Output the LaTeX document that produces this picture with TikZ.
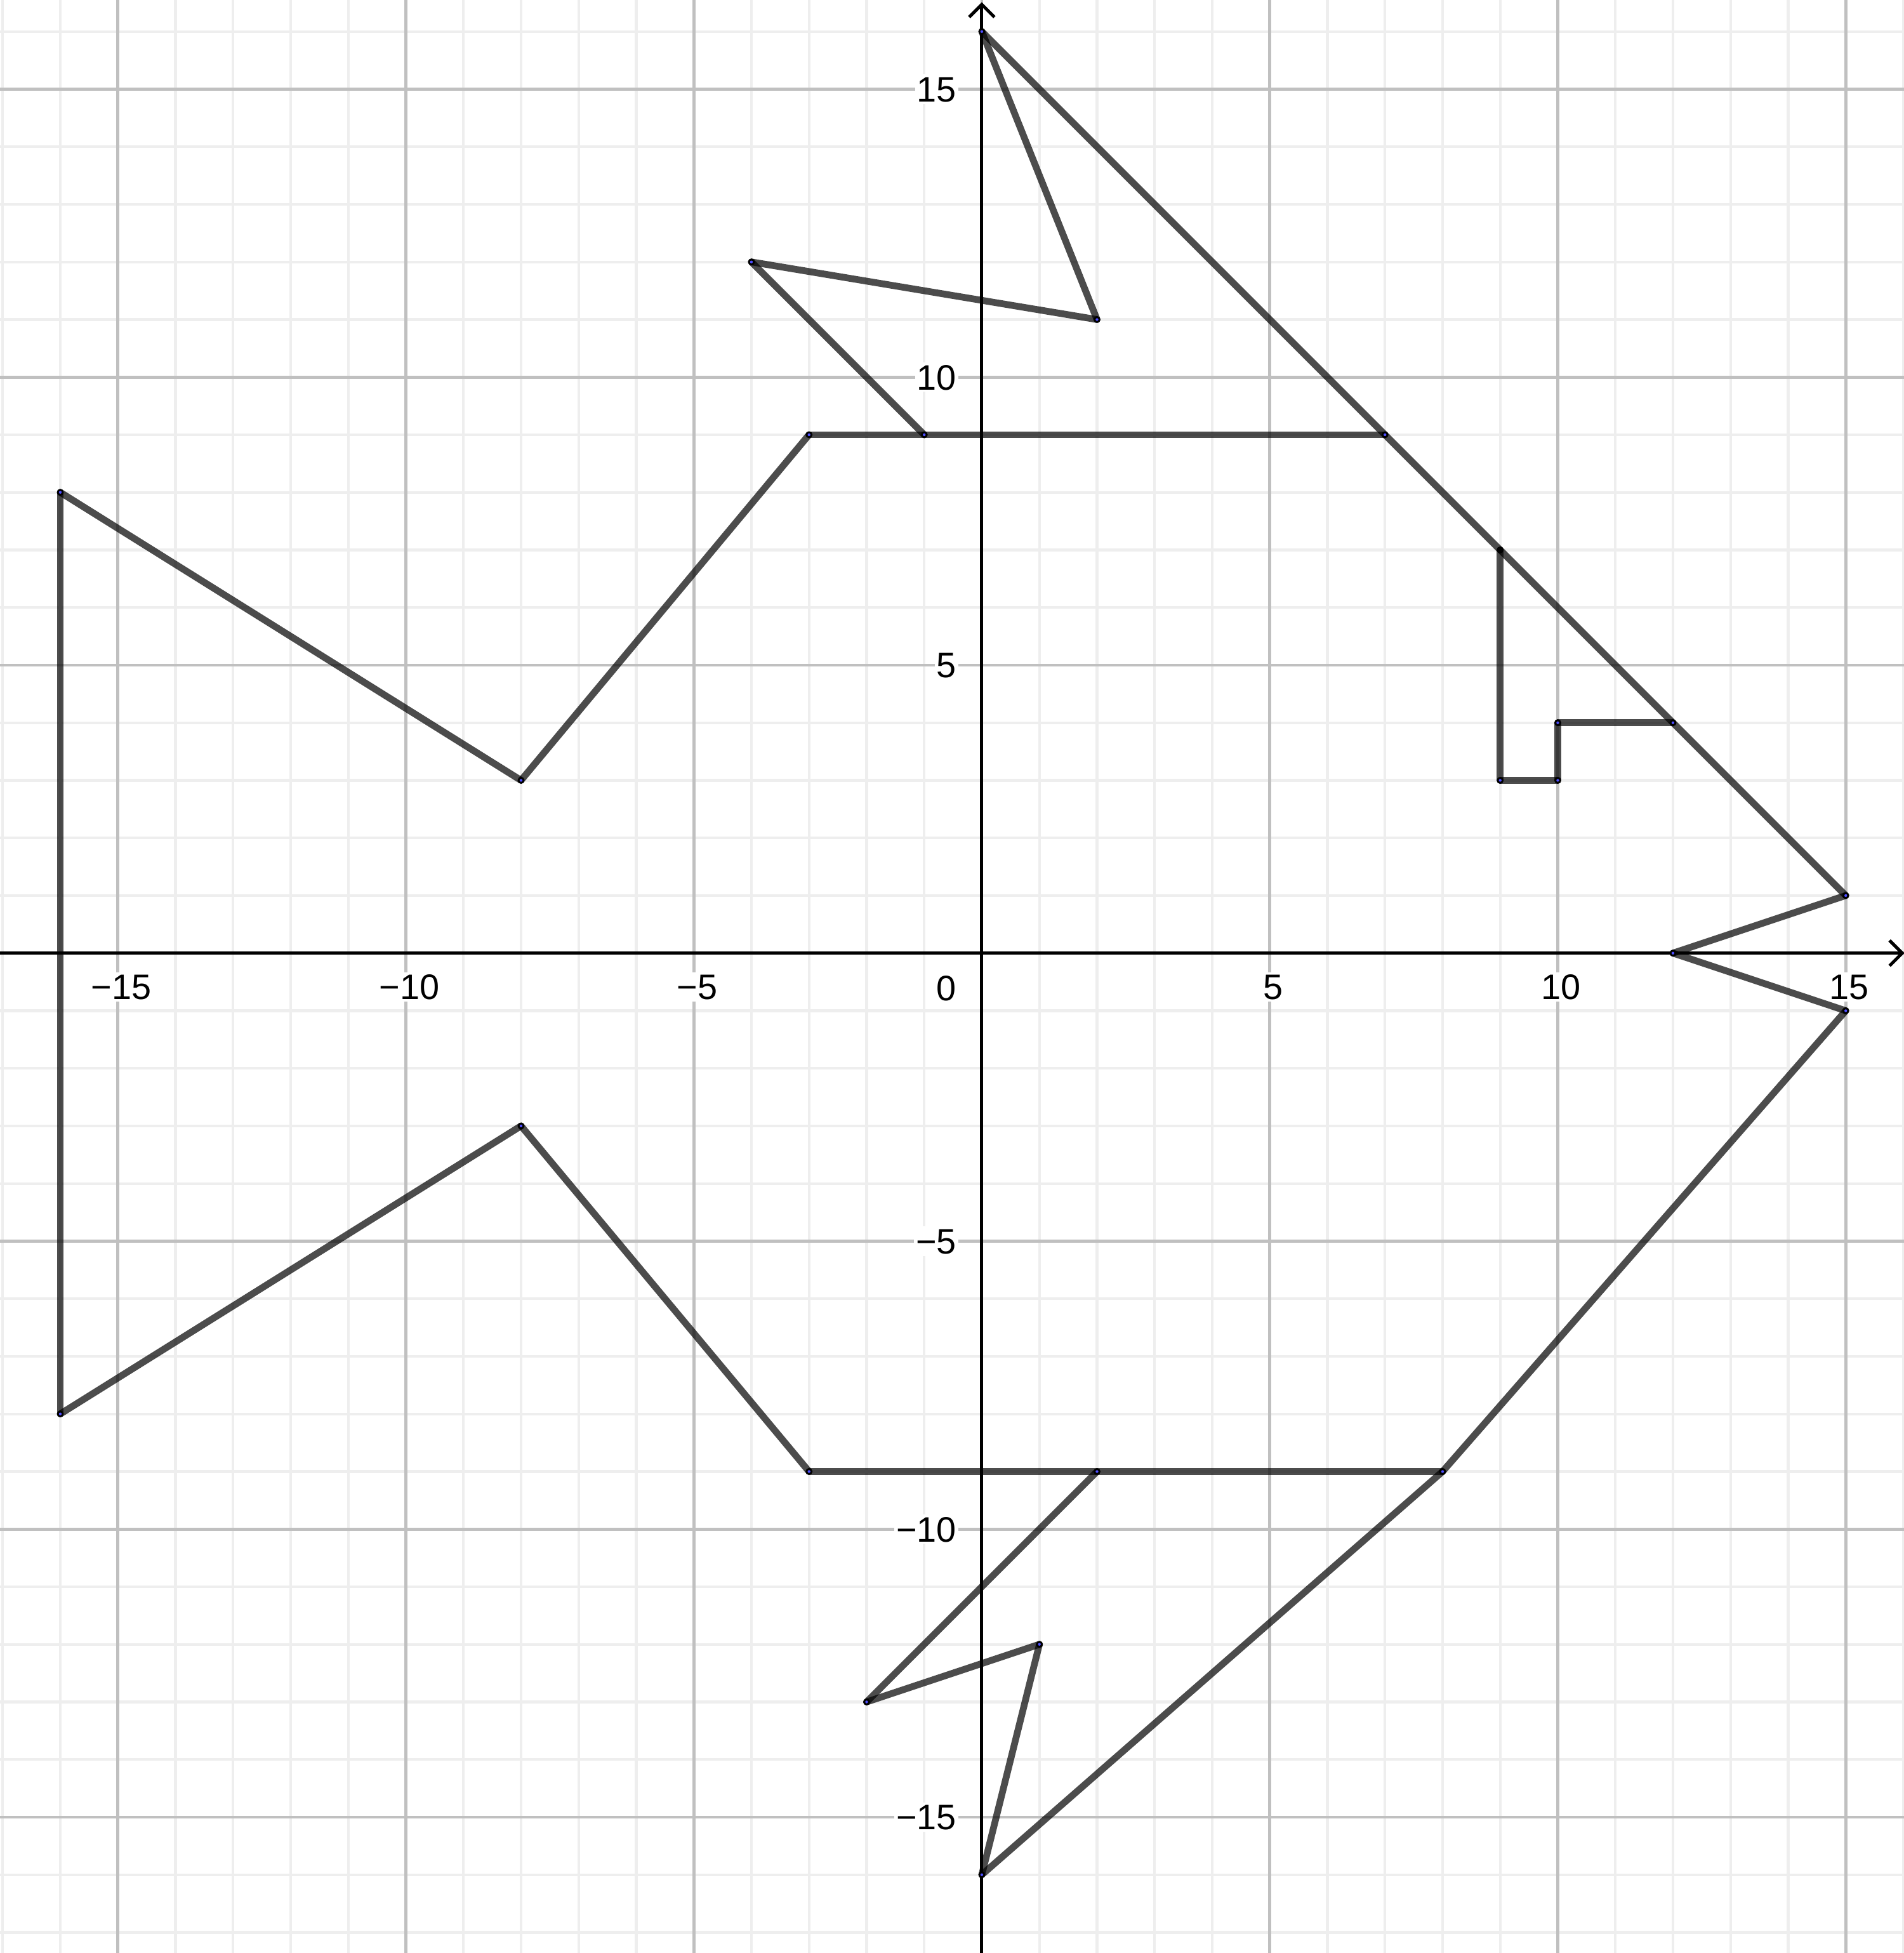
\documentclass[tikz,border=0pt]{standalone}
\usepackage{fontspec}
\setmainfont{Liberation Sans}
\definecolor{minorgrid}{RGB}{238,238,238}
\definecolor{majorgrid}{RGB}{192,192,192}
\definecolor{ptblue}{RGB}{77,77,255}
\begin{document}
\begin{tikzpicture}[
  seg/.style={line width=3.35pt, draw=black, draw opacity=0.7, line cap=round},
  minorline/.style={draw=minorgrid, line width=1.35pt},
  majorline/.style={draw=majorgrid, line width=1.47pt},
  axisline/.style={draw=black, line width=1.57pt},
  lbl/.style={font=\fontsize{17.5}{20}\selectfont, fill=white, inner sep=1pt, text height=12.5pt, text depth=0pt},
  ptouter/.style={fill=black},
  ptinner/.style={fill=ptblue}
]
\useasboundingbox (-17.047,-17.359) rectangle (16.011,16.548);
% grid
\foreach \i in {-17,...,16} {
  \draw[minorline] (\i,-17.5) -- (\i,16.7);
  \draw[minorline] (-17.2,\i) -- (16.2,\i);
}
\foreach \i in {-15,-10,...,15} {
  \draw[majorline] (\i,-17.5) -- (\i,16.7);
  \draw[majorline] (-17.2,\i) -- (16.2,\i);
}
% labels
\foreach \v/\t in {-15/−15,-10/−10,-5/−5,5/5,10/10,15/15} {
  \node[lbl, anchor=north] (xl\v) at (\v+0.06,-0.325) {\t};
  \node[lbl, anchor=east] (yl\v) at (-0.40,\v) {\t};
}
\node[lbl, anchor=north east] (zero) at (-0.40,-0.345) {0};
% axes
\coordinate (xtip) at (15.98,0);
\coordinate (ytip) at (0,16.47);
\draw[axisline] (-17.2,0) -- (xtip);
\draw[axisline] (0,-17.5) -- (ytip);
\draw[axisline] ([shift={(-0.22,0.22)}]xtip) -- (xtip) -- ([shift={(-0.22,-0.22)}]xtip);
\draw[axisline] ([shift={(-0.22,-0.22)}]ytip) -- (ytip) -- ([shift={(0.22,-0.22)}]ytip);
% vertices
\coordinate (A) at (0,16);
\coordinate (B) at (2,11);
\coordinate (C) at (-4,12);
\coordinate (D) at (-1,9);
\coordinate (E) at (-3,9);
\coordinate (F) at (7,9);
\coordinate (G) at (9,7);
\coordinate (H) at (12,4);
\coordinate (I) at (15,1);
\coordinate (J) at (12,0);
\coordinate (K) at (15,-1);
\coordinate (L) at (8,-9);
\coordinate (M) at (0,-16);
\coordinate (N) at (1,-12);
\coordinate (O) at (-2,-13);
\coordinate (P) at (2,-9);
\coordinate (Q) at (-3,-9);
\coordinate (R) at (-8,-3);
\coordinate (S) at (-16,-8);
\coordinate (T) at (-16,8);
\coordinate (U) at (-8,3);
\coordinate (V) at (9,3);
\coordinate (W) at (10,3);
\coordinate (X) at (10,4);
% segments
\foreach \a/\b in {A/B,B/C,C/D,E/F,A/I,I/J,J/K,K/L,L/M,M/N,N/O,O/P,Q/L,E/U,U/T,T/S,S/R,R/Q,G/V,V/W,W/X,X/H} {
  \draw[seg] (\a) -- (\b);
}
% points
\foreach \p in {A,B,C,D,E,F,H,I,J,K,L,M,N,O,P,Q,R,S,T,U,V,W,X} {
  \fill[ptouter] (\p) circle (0.06);
  \fill[ptinner] (\p) circle (0.024);
}
\fill[ptouter] (G) circle (0.06);
\end{tikzpicture}
\end{document}
